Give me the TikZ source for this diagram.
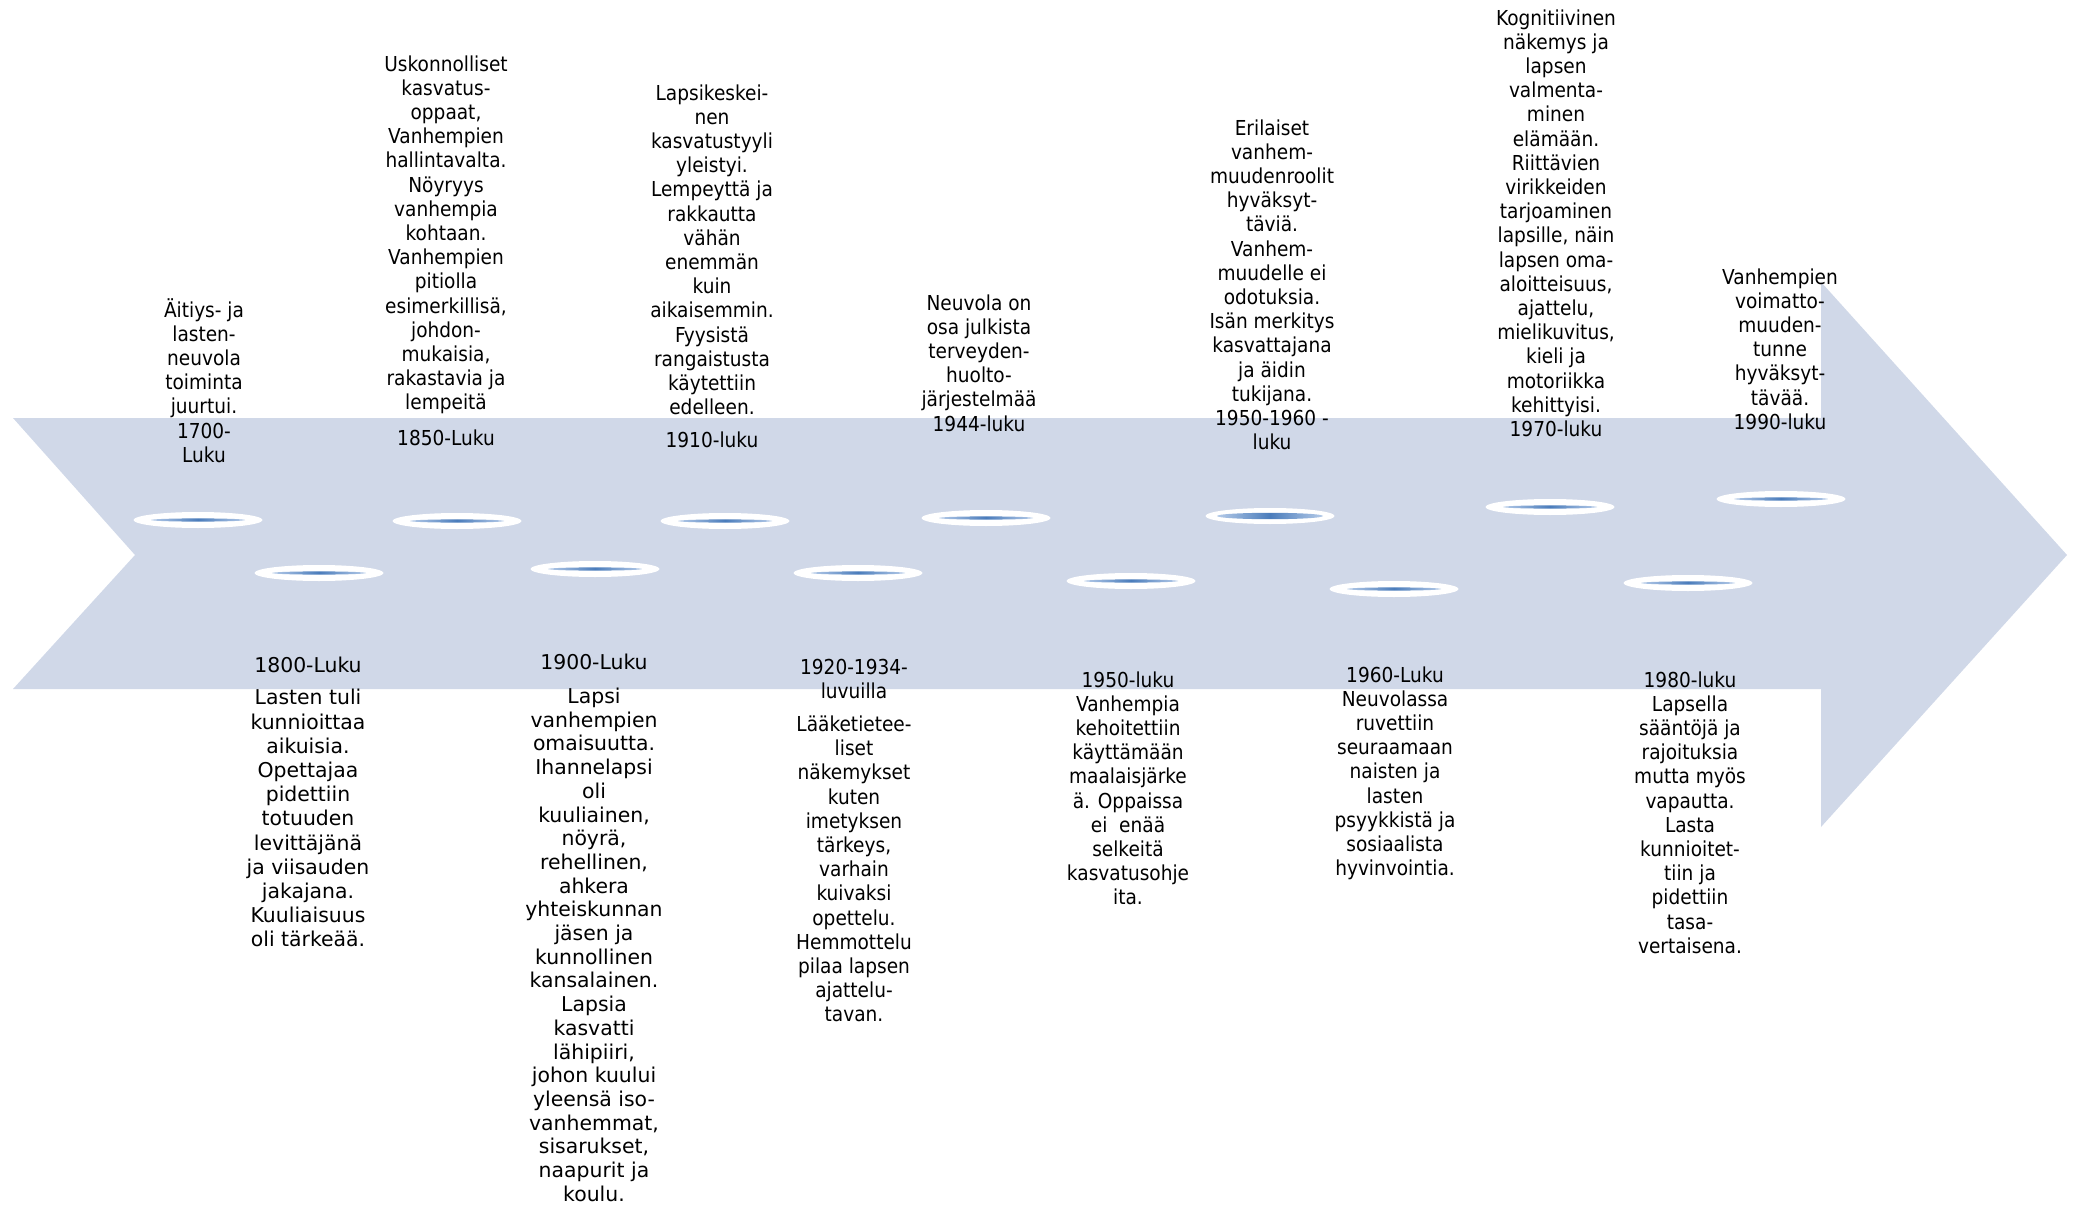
\documentclass[tikz,border=0pt]{standalone}
\usepackage{fontspec}
\setmainfont{DejaVu Sans}[FakeStretch=0.9]
\newfontfamily\widefont{DejaVu Sans}
\usetikzlibrary{shapes.geometric}
\definecolor{arrowfill}{RGB}{208,216,232}
\definecolor{coreblue}{RGB}{74,124,187}
\definecolor{corelight}{RGB}{180,202,232}
\tikzset{
  txt/.style={align=center, inner sep=0pt, anchor=north, text=black,
    font=\fontsize{20.6}{24.2}\selectfont},
  widetxt/.style={align=center, inner sep=0pt, anchor=north, text=black,
    font=\widefont\fontsize{20.4}{24.2}\selectfont},
  ring/.style={ellipse, fill=white, draw=none, minimum width=129pt,
    minimum height=16pt, inner sep=0pt},
  core/.style={left color=corelight, right color=corelight, middle color=coreblue}
}
\begin{document}
\begin{tikzpicture}[x=1pt,y=-1pt]
\useasboundingbox (0,0) rectangle (2074,1214);
% big notched arrow
\fill[arrowfill] (13,418) -- (1821,418) -- (1821,282) -- (2067,555)
  -- (1821,827) -- (1821,689) -- (13,689) -- (135,555) -- cycle;
% markers
\foreach \n/\x/\y/\rx/\ry in {1/198/520/47/1.6, 2/319/573/47/1.6, 3/457/521/47/1.6,
  4/595/569/47/1.6, 5/725/521/47/1.6, 6/858/573/47/1.6, 7/986/518/47/1.6,
  8/1131/581/47/1.6, 9/1270/516/53/3.2, 10/1394/589/47/1.6, 11/1550/507/47/1.6,
  12/1688/583/47/1.6, 13/1781/499/47/1.6}{
  \node[ring] (m\n) at (\x,\y) {};
  \shade[core] (m\n.center) ellipse [x radius=\rx pt, y radius=\ry pt];
}
% upper texts
\node[txt] (t1700) at (204,298) {\strut Äitiys- ja\\lasten-\\neuvola\\toiminta\\juurtui.\\1700-\\Luku};
\node[txt] (t1850) at (446,54) {\strut Uskonnolliset\\kasvatus-\\oppaat,\\Vanhempien\\hallintavalta.\\Nöyryys\\vanhempia\\kohtaan.\\Vanhempien\\pitiolla\\esimerkillisä,\\johdon-\\mukaisia,\\rakastavia ja\\lempeitä\\[11.8pt]1850-Luku};
\node[txt] (t1910) at (712,83) {\strut Lapsikeskei-\\nen\\kasvatustyyli\\yleistyi.\\Lempeyttä ja\\rakkautta\\vähän\\enemmän\\kuin\\aikaisemmin.\\Fyysistä\\rangaistusta\\käytettiin\\edelleen.\\[9pt]1910-luku};
\node[txt] (t1944) at (979,293) {\strut Neuvola on\\osa julkista\\terveyden-\\huolto-\\järjestelmää\\1944-luku};
\node[txt] (t1950a) at (1272,118) {\strut Erilaiset\\vanhem-\\muudenroolit\\hyväksyt-\\täviä.\\Vanhem-\\muudelle ei\\odotuksia.\\Isän merkitys\\kasvattajana\\ja äidin\\tukijana.\\1950-1960 -\\luku};
\node[txt] (t1970) at (1556,8) {\strut Kognitiivinen\\näkemys ja\\lapsen\\valmenta-\\minen\\elämään.\\Riittävien\\virikkeiden\\tarjoaminen\\lapsille, näin\\lapsen oma-\\aloitteisuus,\\ajattelu,\\mielikuvitus,\\kieli ja\\motoriikka\\kehittyisi.\\1970-luku};
\node[txt] (t1990) at (1780,267) {\strut Vanhempien\\voimatto-\\muuden-\\tunne\\hyväksyt-\\tävää.\\1990-luku};
% lower texts
\node[widetxt] (b1800) at (308,655) {\strut 1800-Luku\\[8.5pt]Lasten tuli\\kunnioittaa\\aikuisia.\\Opettajaa\\pidettiin\\totuuden\\levittäjänä\\ja viisauden\\jakajana.\\Kuuliaisuus\\oli tärkeää.};
\node[widetxt, font=\widefont\fontsize{20.4}{23.7}\selectfont] (b1900) at (594,653) {\strut 1900-Luku\\[10pt]Lapsi\\vanhempien\\omaisuutta.\\Ihannelapsi\\oli\\kuuliainen,\\nöyrä,\\rehellinen,\\ahkera\\yhteiskunnan\\jäsen ja\\kunnollinen\\kansalainen.\\Lapsia\\kasvatti\\lähipiiri,\\johon kuului\\yleensä iso-\\vanhemmat,\\sisarukset,\\naapurit ja\\koulu.};
\node[txt] (b1920) at (854,657) {\strut 1920-1934-\\luvuilla\\[9pt]Lääketietee-\\liset\\näkemykset\\kuten\\imetyksen\\tärkeys,\\varhain\\kuivaksi\\opettelu.\\Hemmottelu\\pilaa lapsen\\ajattelu-\\tavan.};
\node[txt] (b1950) at (1128,670) {\strut 1950-luku\\Vanhempia\\kehoitettiin\\käyttämään\\maalaisjärke\\ä. Oppaissa\\ei\ \ enää\\selkeitä\\kasvatusohje\\ita.};
\node[txt] (b1960) at (1395,665) {\strut 1960-Luku\\Neuvolassa\\ruvettiin\\seuraamaan\\naisten ja\\lasten\\psyykkistä ja\\sosiaalista\\hyvinvointia.};
\node[txt] (b1980) at (1690,670) {\strut 1980-luku\\Lapsella\\sääntöjä ja\\rajoituksia\\mutta myös\\vapautta.\\Lasta\\kunnioitet-\\tiin ja\\pidettiin\\tasa-\\vertaisena.};
\end{tikzpicture}
\end{document}
